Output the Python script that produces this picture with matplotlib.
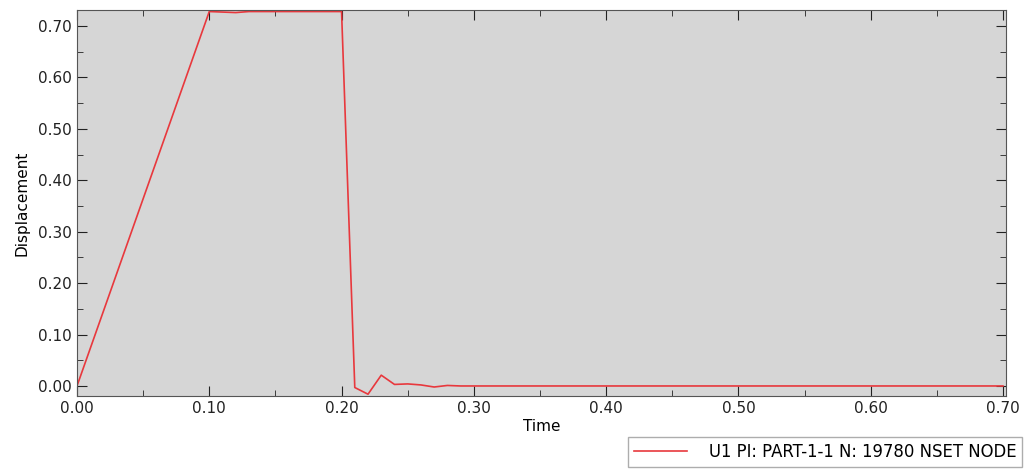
import matplotlib.pyplot as plt
from matplotlib.ticker import MultipleLocator

# U1 displacement history
time = [0.00, 0.10, 0.11, 0.12, 0.13, 0.14, 0.15, 0.16, 0.17, 0.18, 0.19, 0.20,
        0.21, 0.22, 0.23, 0.24, 0.25, 0.26, 0.27, 0.28, 0.29, 0.30,
        0.35, 0.40, 0.45, 0.50, 0.55, 0.60, 0.65, 0.70]
displacement = [0.000, 0.728, 0.727, 0.726, 0.728, 0.728, 0.728, 0.728, 0.728, 0.728, 0.728, 0.728,
                -0.003, -0.016, 0.021, 0.003, 0.004, 0.002, -0.002, 0.001, 0.000, 0.000,
                0.000, 0.000, 0.000, 0.000, 0.000, 0.000, 0.000, 0.000]
series_label = "U1 PI: PART-1-1 N: 19780 NSET NODE"

plt.rcParams['font.family'] = ['DejaVu Sans']

fig = plt.figure(figsize=(10.25, 4.69), dpi=100)
ax = fig.add_axes([77 / 1025, 1 - 396 / 469, (1006 - 77) / 1025, (396 - 10) / 469])
ax.set_facecolor('#d6d6d6')

line, = ax.plot(time, displacement, color='#e8383d', lw=1.2, label=series_label)

ax.set_xlim(0, 0.7023)
ax.set_ylim(-0.0195, 0.731)
ax.xaxis.set_major_locator(MultipleLocator(0.1))
ax.xaxis.set_minor_locator(MultipleLocator(0.05))
ax.yaxis.set_major_locator(MultipleLocator(0.1))
ax.yaxis.set_minor_locator(MultipleLocator(0.05))
ax.xaxis.set_major_formatter(lambda v, p: f"{v:.2f}")
ax.yaxis.set_major_formatter(lambda v, p: f"{v:.2f}")
ax.tick_params(which='both', direction='in', top=True, right=True, labelsize=11, colors='#222222')
ax.tick_params(which='major', length=7)
ax.tick_params(which='minor', length=4)
for s in ax.spines.values():
    s.set_color('#555555')

ax.set_xlabel("Time", fontsize=11, labelpad=2)
ax.set_ylabel("Displacement", fontsize=11, labelpad=6)

fig.legend(handles=[line], loc='lower right', bbox_to_anchor=(1022 / 1025, 1 - 467 / 469),
           borderaxespad=0, fontsize=11.9, frameon=True, fancybox=False, edgecolor='#999999',
           handlelength=3.2, borderpad=0.35, handletextpad=1.3)

fig.savefig("out.png", dpi=100)
